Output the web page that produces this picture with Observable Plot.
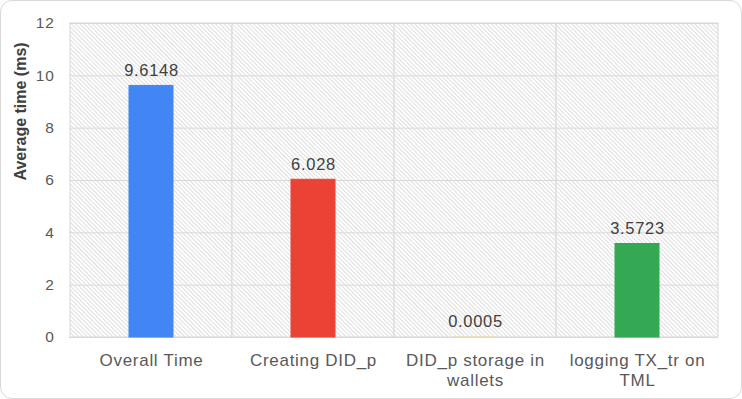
<!DOCTYPE html>
<html><head><meta charset="utf-8">
<script src="https://cdn.jsdelivr.net/npm/d3@7"></script>
<script src="https://cdn.jsdelivr.net/npm/@observablehq/plot@0.6"></script>
<style>
body{margin:0;background:#fff;}
#frame{width:742px;height:399px;box-sizing:border-box;border:1px solid #d9d9d9;border-radius:12px;overflow:hidden;background:#fff;}
#frame svg{display:block;}
#frame svg text{letter-spacing:0.7px;}
#frame svg g[font-weight="bold"] text{letter-spacing:0;}
</style></head><body><div id="frame"></div>
<script>
const categories = ["Overall Time", "Creating DID_p", "DID_p storage in wallets", "logging TX_tr on TML"];
const tickLabels = ["Overall Time", "Creating DID_p", "DID_p storage in\nwallets", "logging TX_tr on\nTML"];
const values = [9.6148, 6.028, 0.0005, 3.5723];
const valueLabels = ["9.6148", "6.028", "0.0005", "3.5723"];
const colors = ["#4285F4", "#EA4335", "#F3D9A0", "#34A853"];
const yTicks = [0, 2, 4, 6, 8, 10, 12];
const yLabel = "Average time (ms)";

const rows = categories.map((c, i) => ({cat: c, value: values[i], label: valueLabels[i], color: colors[i]}));
const tickMap = new Map(categories.map((c, i) => [c, tickLabels[i]]));

const chart = Plot.plot({
  width: 740,
  height: 397,
  marginLeft: 68,
  marginRight: 23,
  marginTop: 22,
  marginBottom: 61,
  style: {fontFamily: "'Liberation Sans', Arial, sans-serif", background: "transparent"},
  x: {type: "band", domain: categories, padding: 0},
  y: {domain: [0, 12]},
  marks: [
    Plot.barY(categories, {x: d => d, y1: 0, y2: 12, fill: "url(#hatch)", stroke: "#d9d9d9", strokeWidth: 1}),
    Plot.ruleY(yTicks, {stroke: "#d9d9d9", strokeWidth: 1}),
    Plot.barY(rows, {x: "cat", y: "value", fill: "color", stroke: "color", strokeWidth: 1, insetLeft: 59, insetRight: 59}),
    Plot.text(rows, {x: "cat", y: "value", text: "label", lineAnchor: "bottom", dy: -10, fontSize: 16.5, fill: "#404040"}),
    Plot.axisY({ticks: yTicks, tickSize: 0, tickPadding: 15, fontSize: 15.5, color: "#595959", label: null}),
    Plot.axisX({tickSize: 0, tickPadding: 15, fontSize: 17, lineHeight: 1.15, color: "#595959", label: null, tickFormat: d => tickMap.get(d)}),
    Plot.text([yLabel], {frameAnchor: "left", dx: -49, rotate: -90, fontSize: 16, fontWeight: "bold", fill: "#404040", text: d => d})
  ]
});

const ns = "http://www.w3.org/2000/svg";
const defs = document.createElementNS(ns, "defs");
defs.innerHTML = '<pattern id="hatch" patternUnits="userSpaceOnUse" width="3" height="3" patternTransform="rotate(-45)"><rect width="3" height="3" fill="#ffffff"/><line x1="0.5" y1="0" x2="0.5" y2="3" stroke="#dadada" stroke-width="0.9"/></pattern>';
chart.insertBefore(defs, chart.firstChild);
document.getElementById("frame").appendChild(chart);
</script>
</body></html>
